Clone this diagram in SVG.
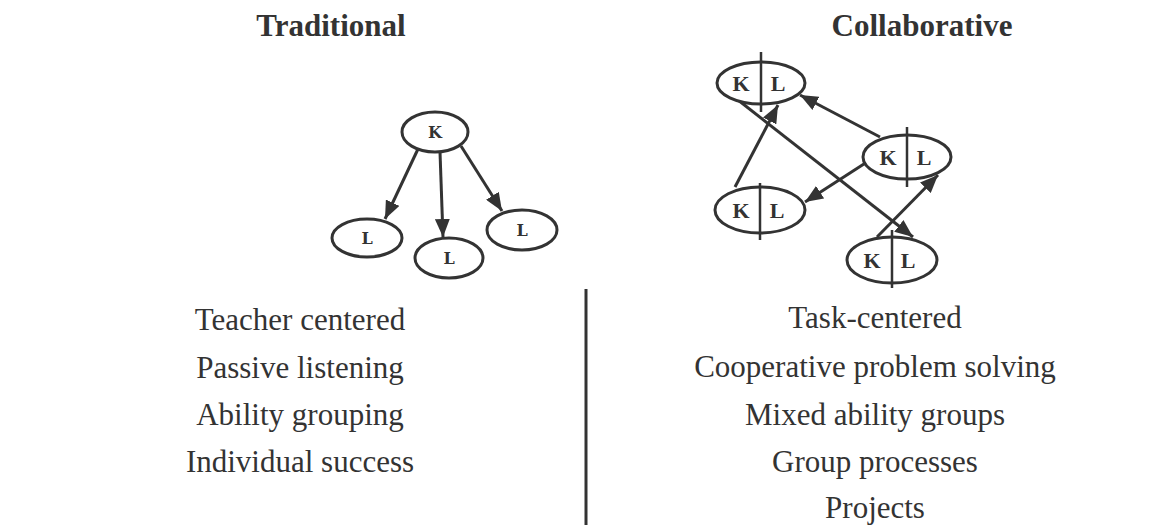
<svg xmlns="http://www.w3.org/2000/svg" width="1151" height="525" viewBox="0 0 1151 525">
<style>
.title{font-family:"Liberation Serif","Times New Roman",serif;font-weight:bold;font-size:31px;fill:#333;text-anchor:middle}
.item{font-family:"Liberation Serif","Times New Roman",serif;font-size:31px;fill:#333;text-anchor:middle}
.node{fill:#fff;stroke:#333;stroke-width:3}
.div{stroke:#333;stroke-width:2.5}
.tl{font-family:"DejaVu Serif",serif;font-weight:bold;font-size:16px;fill:#333;text-anchor:middle}
.cl{font-family:"Liberation Serif","Times New Roman",serif;font-weight:bold;font-size:22px;fill:#333;text-anchor:middle}
.edge{stroke:#333;stroke-width:3;fill:none;marker-end:url(#ah)}
</style>
<defs>
<marker id="ah" markerUnits="userSpaceOnUse" markerWidth="18" markerHeight="15" viewBox="0 0 18 15" refX="18" refY="7.5" orient="auto">
<path d="M0,0 L18,7.5 L0,15 z" fill="#333"/>
</marker>
</defs>
<rect width="1151" height="525" fill="#fff"/>
<text class="title" x="331" y="36">Traditional</text>
<text class="title" x="922" y="36">Collaborative</text>

<g id="connectors">
<line class="edge" x1="418" y1="149" x2="385" y2="219"/>
<line class="edge" x1="440" y1="152" x2="443" y2="237"/>
<line class="edge" x1="461" y1="146" x2="502" y2="211"/>
<line class="edge" x1="880" y1="137" x2="800" y2="95"/>
<line class="edge" x1="867" y1="162" x2="805" y2="202"/>
<line class="edge" x1="735" y1="187" x2="778" y2="105"/>
<line class="edge" x1="738" y1="100" x2="913" y2="237"/>
<line class="edge" x1="877" y1="237" x2="938" y2="175"/>
</g>

<g id="t-k"><ellipse class="node" cx="435" cy="132" rx="33" ry="20"/><text class="tl" x="435" y="138">K</text></g>
<g id="t-l1"><ellipse class="node" cx="367" cy="238" rx="35" ry="19"/><text class="tl" x="367" y="244">L</text></g>
<g id="t-l2"><ellipse class="node" cx="449" cy="258" rx="34" ry="20"/><text class="tl" x="449" y="264">L</text></g>
<g id="t-l3"><ellipse class="node" cx="522" cy="230" rx="35" ry="20"/><text class="tl" x="522" y="236">L</text></g>

<g id="c-tl"><ellipse class="node" cx="761" cy="83" rx="44" ry="21"/><line class="div" x1="761" y1="52" x2="761" y2="112"/><text class="cl" x="741" y="91">K</text><text class="cl" x="778" y="91">L</text></g>
<g id="c-r"><ellipse class="node" cx="907" cy="157" rx="44" ry="22"/><line class="div" x1="907" y1="127" x2="907" y2="187"/><text class="cl" x="888" y="165">K</text><text class="cl" x="924" y="165">L</text></g>
<g id="c-bl"><ellipse class="node" cx="760" cy="210" rx="45" ry="23"/><line class="div" x1="760" y1="183" x2="760" y2="240"/><text class="cl" x="741" y="218">K</text><text class="cl" x="777" y="218">L</text></g>
<g id="c-br"><ellipse class="node" cx="892" cy="260" rx="45" ry="23"/><line class="div" x1="892" y1="230" x2="892" y2="288"/><text class="cl" x="872" y="268">K</text><text class="cl" x="908" y="268">L</text></g>

<line x1="586" y1="289" x2="586" y2="525" stroke="#333" stroke-width="3"/>

<g id="left-list">
<text class="item" x="300" y="330">Teacher centered</text>
<text class="item" x="300" y="378">Passive listening</text>
<text class="item" x="300" y="425">Ability grouping</text>
<text class="item" x="300" y="472">Individual success</text>
</g>
<g id="right-list">
<text class="item" x="875" y="328">Task-centered</text>
<text class="item" x="875" y="377">Cooperative problem solving</text>
<text class="item" x="875" y="425">Mixed ability groups</text>
<text class="item" x="875" y="472">Group processes</text>
<text class="item" x="875" y="518">Projects</text>
</g>
</svg>
